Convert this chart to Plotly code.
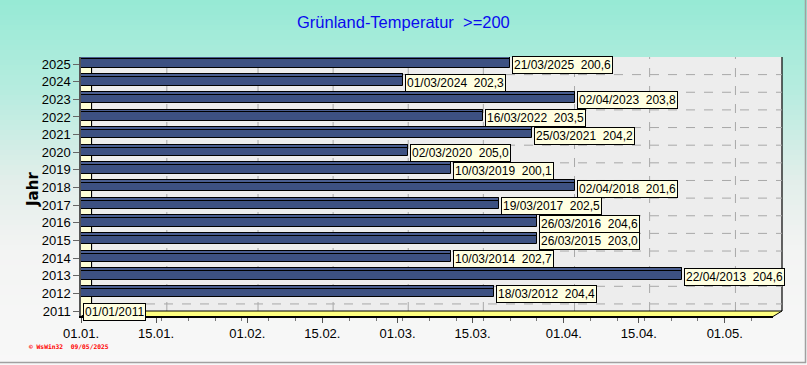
import datetime as dt
import plotly.graph_objects as go

# ---------------- data ----------------
years = [2011, 2012, 2013, 2014, 2015, 2016, 2017, 2018, 2019, 2020, 2021, 2022, 2023, 2024, 2025]
dates = ["01/01/2011", "18/03/2012", "22/04/2013", "10/03/2014", "26/03/2015", "26/03/2016",
         "19/03/2017", "02/04/2018", "10/03/2019", "02/03/2020", "25/03/2021", "16/03/2022",
         "02/04/2023", "01/03/2024", "21/03/2025"]
values = [None, 204.4, 204.6, 202.7, 203.0, 204.6, 202.5, 201.6, 200.1, 205.0, 204.2, 203.5,
          203.8, 202.3, 200.6]
tick_dates = ["2023-01-01", "2023-01-15", "2023-02-01", "2023-02-15", "2023-03-01",
              "2023-03-15", "2023-04-01", "2023-04-15", "2023-05-01"]
tick_text = ["01.01.", "15.01.", "01.02.", "15.02.", "01.03.", "15.03.", "01.04.", "15.04.", "01.05."]

REF_YEAR = 2023
BASE = dt.datetime(REF_YEAR, 1, 1)
DAY_MS = 86400000

W, H = 807, 365


def px(x):
    return x / W


def py(y):
    return 1 - y / H


def day_len(d, v):
    dd, mm, yy = [int(s) for s in d.split("/")]
    doy = (dt.datetime(REF_YEAR, mm, dd) - BASE).days
    return doy + 1 if v is not None else 0


lengths = [day_len(d, v) for d, v in zip(dates, values)]
bar_x = [l * DAY_MS if v is not None else None for l, v in zip(lengths, values)]


def fmt_label(d, v):
    if v is None:
        return d
    return f"{d}  {v:.1f}".replace(".", ",")


labels = [fmt_label(d, v) for d, v in zip(dates, values)]

fig = go.Figure()

# main bar body
fig.add_trace(go.Bar(
    y=years, x=bar_x, base=BASE.strftime("%Y-%m-%d"), orientation="h",
    width=0.64, offset=-0.22,
    marker=dict(color="#3d5182", line=dict(color="#000000", width=1)),
    hoverinfo="skip", showlegend=False,
))
# top face strip for a 3D look
fig.add_trace(go.Bar(
    y=years, x=bar_x, base=BASE.strftime("%Y-%m-%d"), orientation="h",
    width=0.16, offset=0.26,
    marker=dict(color="#4a5e90", line=dict(color="#000000", width=1)),
    hoverinfo="skip", showlegend=False,
))

shapes = []
# background gradient
stops = [(0, (150, 234, 213)), (90, (182, 236, 223)), (180, (226, 238, 234)),
         (250, (243, 244, 243)), (365, (248, 248, 248))]


def grad(y):
    for (y0, c0), (y1, c1) in zip(stops[:-1], stops[1:]):
        if y0 <= y <= y1:
            t = (y - y0) / (y1 - y0)
            return tuple(round(a + (b - a) * t) for a, b in zip(c0, c1))
    return stops[-1][1]


step = 5
for y in range(0, H, step):
    c = grad(y + step / 2)
    shapes.append(dict(type="rect", xref="paper", yref="paper", x0=0, x1=1,
                       y0=py(y), y1=py(min(y + step, H)), line=dict(width=0),
                       fillcolor=f"rgb{c}", layer="below"))

# outer border
shapes.append(dict(type="line", xref="paper", yref="paper", x0=0, x1=px(806), y0=py(362.5), y1=py(362.5),
                   line=dict(color="#a0a0a0", width=1.5), layer="below"))
shapes.append(dict(type="line", xref="paper", yref="paper", x0=px(805.5), x1=px(805.5), y0=py(0), y1=py(363),
                   line=dict(color="#a0a0a0", width=1.5), layer="below"))

# back wall
shapes.append(dict(type="rect", xref="paper", yref="paper", x0=px(91), x1=px(782), y0=py(311), y1=py(57),
                   fillcolor="#ededed", line=dict(width=0), layer="below"))
shapes.append(dict(type="line", xref="paper", yref="paper", x0=px(782), x1=px(782), y0=py(311), y1=py(57),
                   line=dict(color="#000000", width=1.2), layer="below"))
shapes.append(dict(type="line", xref="paper", yref="paper", x0=px(91.5), x1=px(91.5), y0=py(311), y1=py(57),
                   line=dict(color="#000000", width=1.2), layer="below"))
# left wall
shapes.append(dict(type="path", xref="paper", yref="paper",
                   path=f"M {px(81)},{py(316)} L {px(81)},{py(62)} L {px(91)},{py(57)} L {px(91)},{py(311)} Z",
                   fillcolor="#ffffd6", line=dict(width=0), layer="below"))
# horizontal dashed grid on back wall
for yr in years[:-1]:
    shapes.append(dict(type="line", xref="paper", yref="y", x0=px(92), x1=px(782), y0=yr + 0.4, y1=yr + 0.4,
                       line=dict(color="#a8a8a8", width=1, dash="dash"), layer="below"))
# vertical dashed grid on back wall
for td in tick_dates[1:]:
    d = dt.datetime.strptime(td, "%Y-%m-%d") + dt.timedelta(days=2)
    shapes.append(dict(type="line", xref="x", yref="paper", x0=d, x1=d, y0=py(311), y1=py(57),
                       line=dict(color="#a8a8a8", width=1, dash="dash"), layer="below"))
# floor
shapes.append(dict(type="path", xref="paper", yref="paper",
                   path=f"M {px(81)},{py(316.5)} L {px(90)},{py(311)} L {px(782)},{py(311)} L {px(773)},{py(316.5)} Z",
                   fillcolor="#ffff80", line=dict(color="#000000", width=1), layer="below"))

annotations = []
for yr, l, lab in zip(years, lengths, labels):
    xd = BASE + dt.timedelta(days=l)
    annotations.append(dict(x=xd, y=yr, xref="x", yref="y", text=lab, showarrow=False,
                            xanchor="left", yanchor="middle", xshift=2, yshift=-1,
                            font=dict(family="Liberation Sans, Arial", size=12, color="#000000"),
                            bgcolor="#ffffe1", bordercolor="#000000", borderwidth=1, borderpad=1))

annotations.append(dict(x=px(403), y=py(22), xref="paper", yref="paper", text="Grünland-Temperatur  &gt;=200",
                        showarrow=False, xanchor="center", yanchor="middle",
                        font=dict(family="Liberation Sans, Arial", size=16.5, color="#0a0aee")))
annotations.append(dict(x=px(33), y=py(190), xref="paper", yref="paper", text="<b>Jahr</b>",
                        showarrow=False, xanchor="center", yanchor="middle", textangle=-90,
                        font=dict(family="DejaVu Sans, Arial", size=15, color="#000000")))
annotations.append(dict(x=px(27), y=py(346), xref="paper", yref="paper", text="<b>© WsWin32  09/05/2025</b>",
                        showarrow=False, xanchor="left", yanchor="middle",
                        font=dict(family="DejaVu Sans Mono, monospace", size=6.3, color="#ff0000")))

fig.update_layout(
    width=W, height=H,
    margin=dict(l=0, r=0, t=0, b=0, autoexpand=False),
    paper_bgcolor="#f8f8f8", plot_bgcolor="rgba(0,0,0,0)",
    shapes=shapes, annotations=annotations,
    bargap=0, barmode="overlay",
    xaxis=dict(domain=[px(81), px(773)], type="date", automargin=False,
               range=[BASE, BASE + dt.timedelta(days=129)],
               tickvals=tick_dates, ticktext=tick_text,
               ticks="outside", ticklen=5, tickcolor="#555555",
               minor=dict(ticks="outside", ticklen=3, tickcolor="#777777",
                          dtick=5 * DAY_MS, tick0=BASE.strftime("%Y-%m-%d")),
               showgrid=False, zeroline=False,
               showline=True, linecolor="#000000", linewidth=1.5,
               tickfont=dict(family="Liberation Sans, Arial", size=13, color="#000000")),
    yaxis=dict(domain=[py(316), py(57)], range=[2010.717, 2025.399], automargin=False,
               tickvals=years, ticktext=[str(y) for y in years],
               ticks="outside", ticklen=6, tickcolor="#666666",
               showgrid=False, zeroline=False,
               showline=True, linecolor="#555555", linewidth=1.5,
               tickfont=dict(family="Liberation Sans, Arial", size=13, color="#000000")),
)

fig.write_html("out.html", config={"displayModeBar": False},
               post_script="document.body.style.margin='0';document.body.style.overflow='hidden';")
